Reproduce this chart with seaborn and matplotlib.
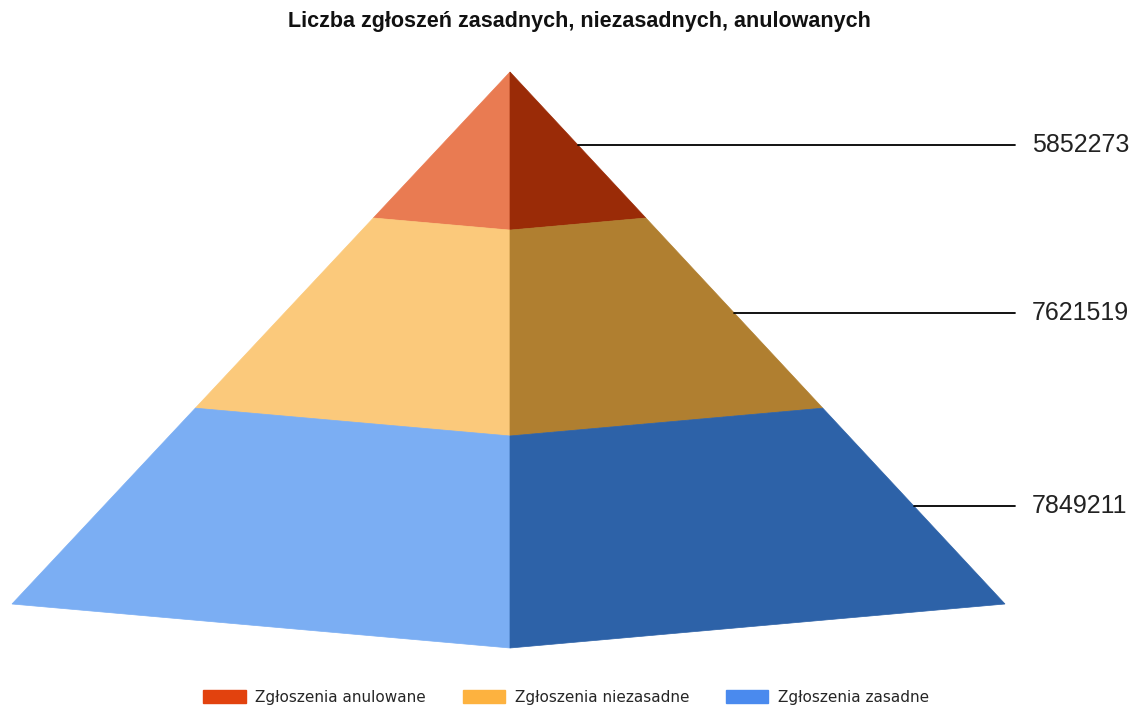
import numpy as np
import matplotlib
matplotlib.use("Agg")
import matplotlib.pyplot as plt
from matplotlib.patches import Polygon, Patch
import seaborn as sns

# dane (od góry piramidy)
categories = ["Zgłoszenia anulowane", "Zgłoszenia niezasadne", "Zgłoszenia zasadne"]
values = [5852273, 7621519, 7849211]
title = "Liczba zgłoszeń zasadnych, niezasadnych, anulowanych"

left_colors = ["#E97B52", "#FBC97B", "#7BAEF3"]
right_colors = ["#9A2B07", "#B07F30", "#2D62A8"]
legend_colors = ["#E2420E", "#FDB23F", "#4A8AEE"]

sns.set_style("white")
plt.rcParams["font.family"] = ["Liberation Sans", "DejaVu Sans"]

fig = plt.figure(figsize=(11.32, 7.06), dpi=100)
ax = fig.add_axes([0, 0, 1, 1])
ax.set_xlim(0, 1132)
ax.set_ylim(706, 0)
ax.axis("off")

# geometria piramidy (w pikselach)
apex_x, apex_y = 510, 72
base_y = 604
front_y = 648
left_x, right_x = 12, 1005

def pt(t, side):
    if side == "L":
        return (apex_x - (apex_x - left_x) * t, apex_y + (base_y - apex_y) * t)
    if side == "R":
        return (apex_x + (right_x - apex_x) * t, apex_y + (base_y - apex_y) * t)
    return (apex_x, apex_y + (front_y - apex_y) * t)

cum = np.concatenate([[0], np.cumsum(values)]) / np.sum(values)

for i, v in enumerate(values):
    t0, t1 = cum[i], cum[i + 1]
    lf = [pt(t0, "L"), pt(t0, "C"), pt(t1, "C"), pt(t1, "L")]
    rf = [pt(t0, "C"), pt(t0, "R"), pt(t1, "R"), pt(t1, "C")]
    ax.add_patch(Polygon(lf, closed=True, facecolor=left_colors[i], edgecolor=left_colors[i], lw=0.5))
    ax.add_patch(Polygon(rf, closed=True, facecolor=right_colors[i], edgecolor=right_colors[i], lw=0.5))
    # linia odniesienia + etykieta
    tm = (t0 + t1) / 2
    x0, y0 = pt(tm, "R")
    ax.plot([x0, 1015], [y0, y0], color="black", lw=1.3)
    ax.text(1032, y0, str(v), va="center", ha="left", fontsize=18, color="#222222")

ax.text(579, 22, title, ha="center", va="center", fontsize=15.5, fontweight="bold",
        color="#111111")

handles = [Patch(facecolor=c, edgecolor=c) for c in legend_colors]
fig.legend(handles, categories, loc="center", bbox_to_anchor=(0.5, 0.012), ncol=3,
           frameon=False, handlelength=2.8, handleheight=0.9,
           columnspacing=2.4, handletextpad=0.6,
           prop={"family": ["DejaVu Sans"], "size": 11})

fig.savefig("out.png", dpi=100, facecolor="white")
